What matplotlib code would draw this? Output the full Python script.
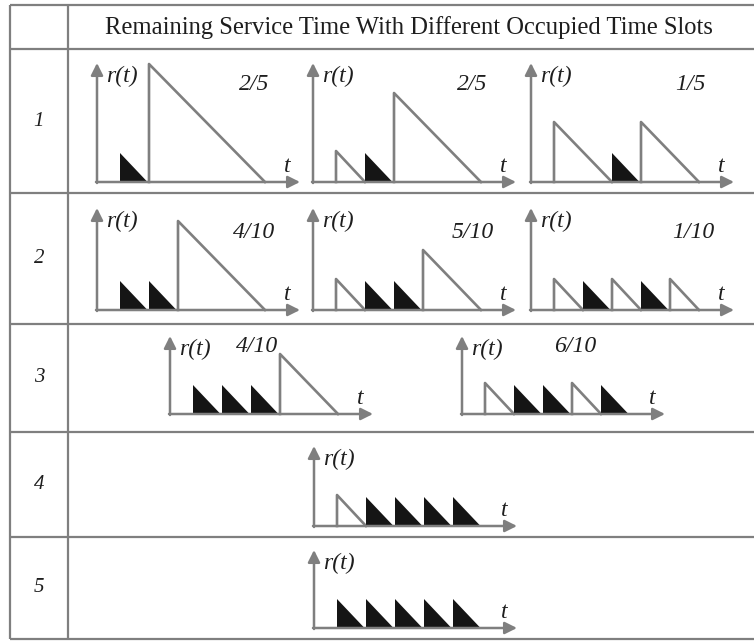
import matplotlib
matplotlib.use('Agg')
import matplotlib.pyplot as plt
from matplotlib.patches import Polygon

plt.rcParams['font.family'] = ['Liberation Serif', 'DejaVu Serif']

title = 'Remaining Service Time With Different Occupied Time Slots'
row_labels = ['1', '2', '3', '4', '5']

# one entry per small diagram: table row, service time of each occupied slot,
# and whether the slot belongs to the tagged user (drawn black)
panel_row = [1, 1, 1, 2, 2, 2, 3, 3, 4, 5]
panel_service = [
    [1, 4],
    [1, 1, 3],
    [2, 1, 2],
    [1, 1, 3],
    [1, 1, 1, 2],
    [1, 1, 1, 1, 1],
    [1, 1, 1, 2],
    [1, 1, 1, 1, 1],
    [1, 1, 1, 1, 1],
    [1, 1, 1, 1, 1],
]
panel_black = [
    [1, 0],
    [0, 1, 0],
    [0, 1, 0],
    [1, 1, 0],
    [0, 1, 1, 0],
    [0, 1, 0, 1, 0],
    [1, 1, 1, 0],
    [0, 1, 1, 0, 1],
    [0, 1, 1, 1, 1],
    [1, 1, 1, 1, 1],
]
panel_ratio = ['2/5', '2/5', '1/5', '4/10', '5/10', '1/10', '4/10', '6/10', '', '']

# layout (pixels)
W, H = 754, 641
row_lines = [5, 49, 193, 324, 432, 537, 639]
col_lines = [10, 68]
panel_x0 = [97, 313, 531, 97, 313, 531, 170, 462, 314, 314]
row_base = {1: 182, 2: 310, 3: 414, 4: 526, 5: 628}
row_yaxis = {1: 119, 2: 102, 3: 78, 4: 80, 5: 78}
ratio_pos = [(157, 97), (159, 97), (159, 97), (157, 78), (160, 78), (162, 78),
             (87, 67), (113, 67), None, None]
slot = 29
first_gap = 23
xaxis_len = 203

gray = '#7f7f7f'
black = '#151515'
ink = '#1e1e1e'

fig = plt.figure(figsize=(W / 100, H / 100), dpi=100)
ax = fig.add_axes([0, 0, 1, 1])
ax.set_xlim(0, W)
ax.set_ylim(H, 0)
ax.axis('off')

# table grid
for y in row_lines:
    ax.plot([col_lines[0], W], [y, y], color=gray, lw=1.6, solid_capstyle='butt')
for x in col_lines:
    ax.plot([x, x], [row_lines[0], row_lines[-1]], color=gray, lw=1.6, solid_capstyle='butt')

ax.text((col_lines[1] + W) / 2 - 2, (row_lines[0] + row_lines[1]) / 2 + 1, title,
        ha='center', va='center', fontsize=17.7, color=ink)
for i, lab in enumerate(row_labels):
    yc = (row_lines[i + 1] + row_lines[i + 2]) / 2
    ax.text((col_lines[0] + col_lines[1]) / 2, yc, lab, ha='center', va='center',
            fontsize=15, style='italic', color=ink)

arrow = dict(arrowstyle='-|>,head_length=0.6,head_width=0.3', color=gray, lw=1.8,
             mutation_scale=12, shrinkA=0, shrinkB=0)

for k in range(len(panel_row)):
    r = panel_row[k]
    x0 = panel_x0[k]
    y0 = row_base[r]
    x = x0 + first_gap
    for d, b in zip(panel_service[k], panel_black[k]):
        w = d * slot
        if b:
            ax.add_patch(Polygon([(x, y0), (x, y0 - w), (x + w - 1.5, y0)], closed=True,
                                 fc=black, ec='none', zorder=2))
        else:
            ax.plot([x, x, x + w], [y0, y0 - w - 2, y0], color=gray, lw=1.9, zorder=2)
        x += w
    # axes with arrow heads
    ax.annotate('', xy=(x0 + xaxis_len, y0), xytext=(x0 - 1, y0), arrowprops=arrow, zorder=3)
    ax.annotate('', xy=(x0, y0 - row_yaxis[r]), xytext=(x0, y0 + 1), arrowprops=arrow, zorder=3)
    ax.text(x0 + 9, y0 - row_yaxis[r] + 13, 'r(t)', ha='left', va='center',
            fontsize=17, style='italic', color=ink)
    ax.text(x0 + 190, y0 - 15, 't', ha='center', va='center',
            fontsize=17, style='italic', color=ink)
    if ratio_pos[k] is not None:
        dx, dy = ratio_pos[k]
        ax.text(x0 + dx, y0 - dy, panel_ratio[k], ha='center', va='center',
                fontsize=17, style='italic', color=ink)

fig.savefig('out.png', dpi=100)
